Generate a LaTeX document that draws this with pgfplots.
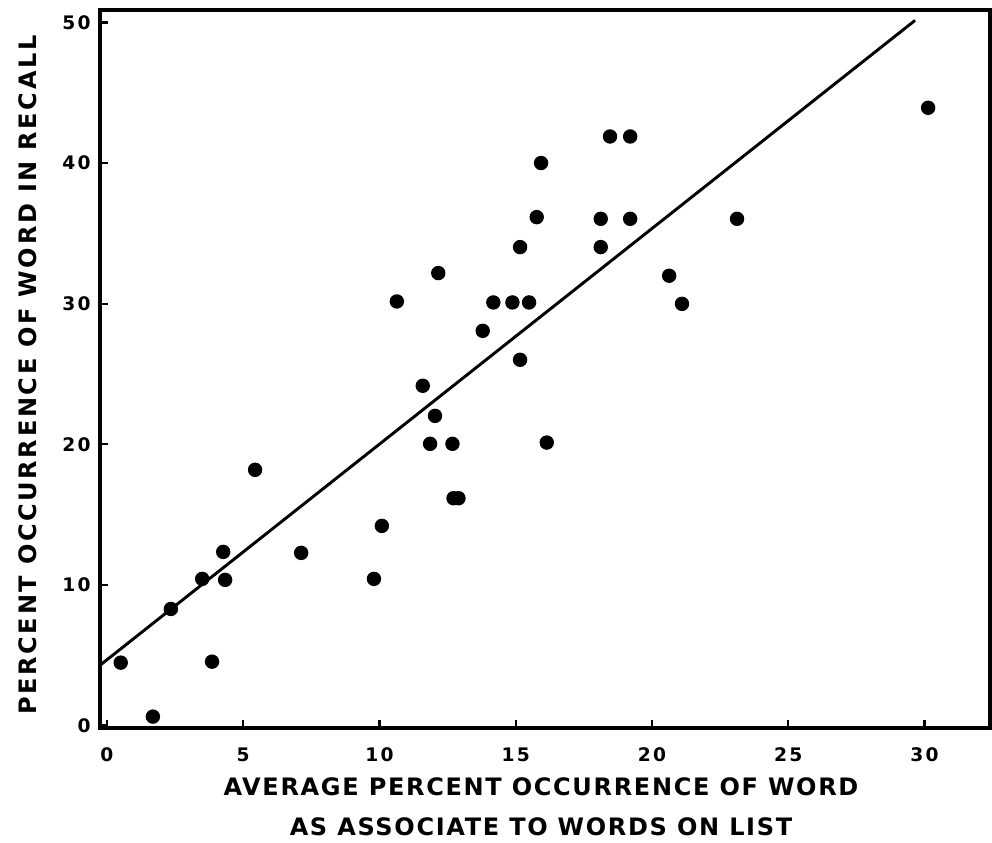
\documentclass[border=0pt]{standalone}
\usepackage{fontspec}
\usepackage{pgfplots}
\pgfplotsset{compat=1.18}
\setmainfont{DejaVu Sans}
\newfontfamily\labfont[LetterSpace=7]{DejaVu Sans}
\newfontfamily\ylabfont[LetterSpace=11]{DejaVu Sans}
\newfontfamily\tickfont[LetterSpace=12]{DejaVu Sans}

\begin{document}
\begin{tikzpicture}
\begin{axis}[
    scale only axis,
    width=333.75pt, height=269.25pt,
    xmin=-0.25, xmax=32.4,
    ymin=-0.19, ymax=50.9,
    xtick={0,5,...,30}, ytick={0,10,...,50},
    xtick pos=left, ytick pos=left,
    tick align=inside,
    major tick length=3pt,
    axis line style={line width=1.2pt},
    every tick/.style={black, line width=0.9pt},
    /pgf/number format/assume math mode=true,
    xticklabel style={font=\tickfont\bfseries\fontsize{7}{8}\selectfont, yshift=-4pt},
    yticklabel style={font=\tickfont\bfseries\fontsize{7}{8}\selectfont},
    xlabel={AVERAGE PERCENT OCCURRENCE OF WORD\\AS ASSOCIATE TO WORDS ON LIST},
    xlabel style={font=\labfont\bfseries\fontsize{9}{14.8}\selectfont, align=center,
        at={(axis description cs:0.4955,-0.069)}, anchor=north, inner sep=0pt},
    ylabel={PERCENT OCCURRENCE OF WORD IN RECALL},
    ylabel style={font=\ylabfont\bfseries\fontsize{9}{10}\selectfont,
        at={(axis description cs:-0.0809,0.4916)}, anchor=center, inner sep=0pt},
]
\addplot[only marks, mark=*, mark size=2.5pt, black] coordinates {
    (0.51,4.46) (1.69,0.62) (2.35,8.28) (3.50,10.42) (3.86,4.53)
    (4.27,12.34) (4.34,10.35) (5.44,18.18) (7.13,12.27) (9.80,10.42)
    (10.09,14.19) (10.64,30.16) (11.59,24.16) (11.86,20.03) (12.04,22.02)
    (12.16,32.18) (12.68,20.03) (12.72,16.16) (12.90,16.16) (13.79,28.07)
    (14.18,30.09) (14.88,30.09) (15.16,34.03) (15.16,26.01) (15.49,30.09)
    (15.77,36.16) (15.93,40.01) (16.14,20.12) (18.12,36.04) (18.12,34.03)
    (18.46,41.90) (19.20,41.90) (19.20,36.04) (20.63,31.99) (21.10,29.99)
    (23.12,36.04) (30.13,43.94)
};
\addplot[black, line width=1.1pt] coordinates {(-0.2,4.35) (29.65,50.16)};
\end{axis}
\pgfresetboundingbox
\path (-37.5pt,-43.125pt) rectangle (334.5pt,273pt);
\end{tikzpicture}
\end{document}
